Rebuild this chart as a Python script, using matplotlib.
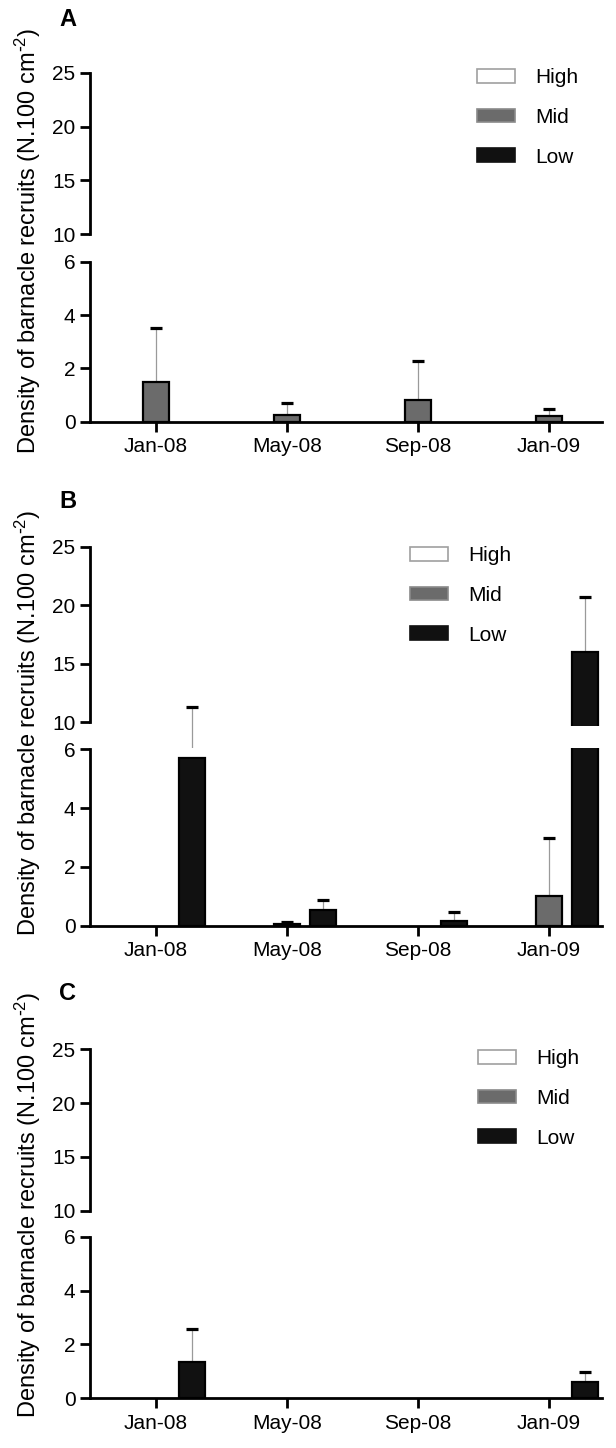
import numpy as np
import matplotlib.pyplot as plt
from matplotlib.patches import Patch

plt.rcParams['font.family'] = ['Liberation Sans', 'DejaVu Sans']
plt.rcParams['mathtext.default'] = 'regular'

months = ['Jan-08', 'May-08', 'Sep-08', 'Jan-09']
levels = ['High', 'Mid', 'Low']

# panel A
a_high = [0, 0, 0, 0]
a_mid = [1.5, 0.27, 0.8, 0.22]
a_mid_err = [2.02, 0.44, 1.49, 0.24]
a_low = [0, 0, 0, 0]

# panel B
b_high = [0, 0, 0, 0]
b_mid = [0, 0.05, 0, 1.01]
b_mid_err = [0, 0.06, 0, 1.96]
b_low = [5.69, 0.53, 0.17, 16.0]
b_low_err = [5.65, 0.34, 0.28, 4.68]

# panel C
c_high = [0, 0, 0, 0]
c_mid = [0, 0, 0, 0]
c_low = [1.34, 0, 0, 0.62]
c_low_err = [1.22, 0, 0, 0.37]

W, H = 616, 1448
fig = plt.figure(figsize=(W / 100, H / 100), dpi=100)

face = {'High': 'white', 'Mid': '#6b6b6b', 'Low': '#111111'}
edge = {'High': '#a0a0a0', 'Mid': 'black', 'Low': 'black'}
offs = {'High': -0.275, 'Mid': 0.0, 'Low': 0.275}
leg_edge = {'High': '#a0a0a0', 'Mid': '#8a8a8a', 'Low': '#111111'}

XL, XR = 90, 602
xlim = (-0.504, 3.405)
top_lim = (9.7, 25)
bot_lim = (0, 6.05)
FS = 15
LW = 2.0


def px_axes(left, top, width, height):
    return fig.add_axes([left / W, 1 - (top + height) / H, width / W, height / H])


def panel(letter, letter_y, p25, p10, p6, p0, leg_x, leg_y, label_top, data):
    ppu_t = (p10 - p25) / 15
    t_bottom = p10 + (10 - top_lim[0]) * ppu_t
    ax_t = px_axes(XL, p25, XR - XL, t_bottom - p25)
    ppu_b = (p0 - p6) / 6
    b_top = p6 - (bot_lim[1] - 6) * ppu_b
    ax_b = px_axes(XL, b_top, XR - XL, p0 - b_top)

    x = np.arange(len(months))
    for ax in (ax_t, ax_b):
        for lev in levels:
            vals, err = data[lev]
            vals = np.asarray(vals, dtype=float)
            keep = vals > 0
            ax.bar(x[keep] + offs[lev], vals[keep], width=0.2, color=face[lev],
                   edgecolor=edge[lev], linewidth=1.6, zorder=3)
        ax.set_xlim(*xlim)
        for s in ('top', 'right'):
            ax.spines[s].set_visible(False)
        ax.spines['left'].set_linewidth(LW)
        ax.tick_params(axis='y', direction='out', length=7, width=LW,
                       labelsize=FS, pad=3.5)
        ax.tick_params(axis='y', which='minor', direction='in', length=4.5,
                       width=LW)

    ax_t.set_ylim(*top_lim)
    ax_t.spines['left'].set_bounds(10, 25)
    ax_t.spines['bottom'].set_visible(False)
    ax_t.set_yticks([10, 15, 20, 25])
    ax_t.set_yticks([10], minor=True)
    ax_t.set_xticks([])

    ax_b.set_ylim(*bot_lim)
    ax_b.spines['left'].set_bounds(0, 6)
    ax_b.spines['bottom'].set_linewidth(LW)
    ax_b.set_yticks([0, 2, 4, 6])
    ax_b.set_yticks([6], minor=True)
    ax_b.set_xticks(x)
    ax_b.set_xticklabels(months)
    ax_b.tick_params(axis='x', direction='out', length=7, width=LW,
                     labelsize=FS, pad=4)

    # upper error bars: thin grey line + black cap
    for lev in levels:
        vals, err = data[lev]
        if err is None:
            continue
        for i, (v, e) in enumerate(zip(vals, err)):
            if e <= 0:
                continue
            xi = i + offs[lev]
            tip = v + e
            if tip <= bot_lim[1]:
                ax, y0 = ax_b, v
            else:
                ax = ax_t
                if v >= top_lim[0]:
                    y0 = v
                else:
                    disp = ax_b.transData.transform((xi, v))
                    y0 = ax_t.transData.inverted().transform(disp)[1]
            ax.plot([xi, xi], [y0, tip], color='#9a9a9a', lw=0.9,
                    zorder=2, clip_on=False)
            ax.plot([xi], [tip], marker='_', ms=9, mew=2.3, color='black',
                    zorder=4, clip_on=False)

    handles = [Patch(facecolor=face[l], edgecolor=leg_edge[l], linewidth=1.2)
               for l in levels]
    ax_t.legend(handles, levels, loc='upper left', frameon=False,
                bbox_to_anchor=(leg_x / W, 1 - leg_y / H),
                bbox_transform=fig.transFigure, borderaxespad=0, borderpad=0,
                fontsize=FS, handlelength=1.8, handleheight=0.65,
                handletextpad=1.0, labelspacing=1.0)

    fig.text(59 / W, 1 - letter_y / H, letter, fontsize=17,
             fontweight='bold', ha='left', va='center')
    fig.text(28 / W, 1 - label_top / H,
             'Density of barnacle recruits (N.100 cm$^{\\text{-}2}$)',
             rotation=90, fontsize=17, ha='center', va='top')


panel('A', 19.5, 72.7, 234.3, 261.7, 421.7, 477, 68, 28,
      {'High': (a_high, None), 'Mid': (a_mid, a_mid_err), 'Low': (a_low, None)})
panel('B', 501, 546.7, 722.3, 749.3, 925.7, 410, 546, 510,
      {'High': (b_high, None), 'Mid': (b_mid, b_mid_err), 'Low': (b_low, b_low_err)})
panel('C', 994, 1049.3, 1210.7, 1236.7, 1398.3, 478, 1049, 992,
      {'High': (c_high, None), 'Mid': (c_mid, None), 'Low': (c_low, c_low_err)})

fig.savefig('out.png', dpi=100)
